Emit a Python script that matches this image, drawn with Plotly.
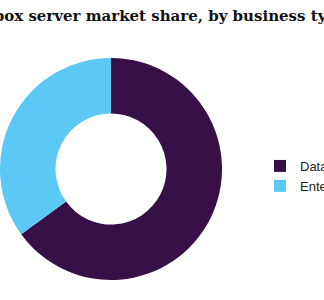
import plotly.graph_objects as go

title_text = "Mailbox server market share, by business type, 2019 (%)"
business_types = ["Data Center", "Enterprise"]
shares = [65, 35]
colors = ["#371047", "#5BC8F5"]

fig = go.Figure()
fig.add_trace(go.Pie(
    labels=business_types,
    values=shares,
    hole=0.5,
    sort=False,
    direction="clockwise",
    rotation=0,
    marker=dict(colors=colors, line=dict(width=0)),
    textinfo="none",
    hoverinfo="label+percent",
    domain=dict(x=[0, 222/324], y=[20/300, 242/300]),
))

fig.update_layout(
    width=324, height=300,
    margin=dict(l=0, r=0, t=0, b=0, autoexpand=False),
    paper_bgcolor="white",
    plot_bgcolor="white",
    showlegend=True,
    legend=dict(
        x=260/324, y=1 - 176/300, xanchor="left", yanchor="middle",
        font=dict(family="Liberation Sans", size=13, color="#222222"),
        bgcolor="rgba(0,0,0,0)",
    ),
    annotations=[dict(
        text="<b>" + title_text + "</b>",
        xref="paper", yref="paper",
        x=-46/324, y=1 - 16/300,
        xanchor="left", yanchor="middle",
        showarrow=False,
        font=dict(family="DejaVu Serif", size=15, color="#111111"),
    )],
)

fig.write_html("out.html")
